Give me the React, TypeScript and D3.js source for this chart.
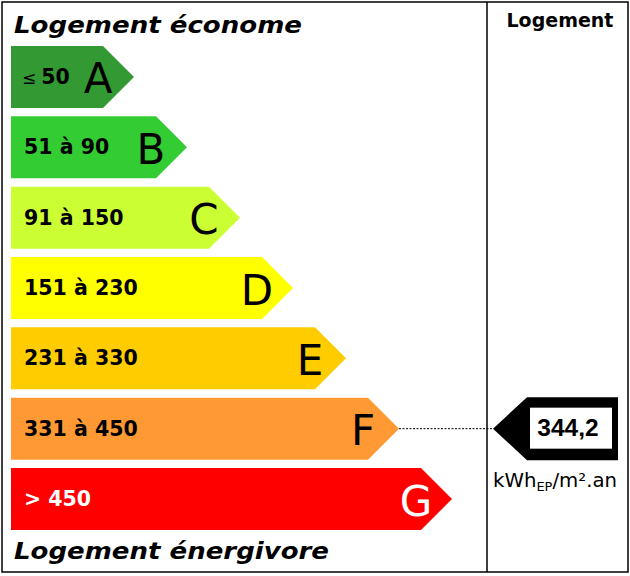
import React from "react";
import * as d3 from "d3";

const classes = ["A", "B", "C", "D", "E", "F", "G"];
const rangeLabels = ["50", "51 à 90", "91 à 150", "151 à 230", "231 à 330", "331 à 450", "> 450"];
const upperBounds = [50, 90, 150, 230, 330, 450, Infinity];
const colors = ["#339933", "#33cc33", "#ccff33", "#ffff00", "#ffcc00", "#ff9933", "#ff0000"];
const textColors = ["#000", "#000", "#000", "#000", "#000", "#000", "#fff"];
const value = 344.2;
const valueLabel = "344,2";
const titleTop = "Logement économe";
const titleBottom = "Logement énergivore";
const columnTitle = "Logement";

const W = 630;
const H = 576;
const FONT = "Verdana, 'DejaVu Sans', sans-serif";

export default function App() {
  const y = d3.scaleBand<string>().domain(classes).range([46, 530]).paddingInner(0.1185).paddingOuter(0);
  const tipX = d3.scaleLinear().domain([0, 6]).range([134, 452]);
  const bh = y.bandwidth();
  const point = bh / 2;
  const left = 11;

  const cls = classes[upperBounds.findIndex((u) => value <= u)];
  const my = (y(cls) as number) + bh / 2;
  const markerTip = 493;
  const markerRight = 618;
  const markerH = 63;
  const markerPoint = 34;
  const fIndex = classes.indexOf(cls);

  return (
    <svg width={W} height={H} style={{ position: "absolute", left: 0, top: 0 }} xmlns="http://www.w3.org/2000/svg">
      <rect x={0} y={0} width={W} height={H} fill="#fff" />
      <rect x={2} y={2} width={626} height={570} fill="none" stroke="#000" strokeWidth={1.5} />
      <line x1={487} x2={487} y1={2} y2={572} stroke="#000" strokeWidth={1.5} />

      <text x={14} y={33} fontFamily={FONT} fontWeight="bold" fontStyle="italic" fontSize={23} textLength={288} lengthAdjust="spacingAndGlyphs">{titleTop}</text>
      <text x={14} y={559} fontFamily={FONT} fontWeight="bold" fontStyle="italic" fontSize={23} textLength={315} lengthAdjust="spacingAndGlyphs">{titleBottom}</text>
      <text x={560} y={27} textAnchor="middle" fontFamily={FONT} fontWeight="bold" fontSize={19}>{columnTitle}</text>

      {classes.map((c, i) => {
        const top = y(c) as number;
        const tx = tipX(i);
        const path = d3.path();
        path.moveTo(left, top);
        path.lineTo(tx - point, top);
        path.lineTo(tx, top + bh / 2);
        path.lineTo(tx - point, top + bh);
        path.lineTo(left, top + bh);
        path.closePath();
        const cy = top + bh / 2;
        return (
          <g key={c}>
            <path d={path.toString()} fill={colors[i]} />
            {i === 0 ? (
              <text x={22} y={cy + 7} fontFamily={FONT} fill={textColors[i]}>
                <tspan fontSize={17}>≤</tspan>
                <tspan fontSize={20.5} fontWeight="bold" dx={5}>{rangeLabels[i]}</tspan>
              </text>
            ) : (
              <text x={24} y={cy + 7} fontFamily={FONT} fontWeight="bold" fontSize={20.5} fill={textColors[i]}>{rangeLabels[i]}</text>
            )}
            <text x={tx - 36} y={cy + 16.5} textAnchor="middle" fontFamily={FONT} fontSize={42} fill={textColors[i]}>{c}</text>
          </g>
        );
      })}

      <line x1={tipX(fIndex)} x2={markerTip} y1={my} y2={my} stroke="#000" strokeWidth={1} strokeDasharray="2,1.5" />
      <path
        d={`M${markerTip},${my} L${markerTip + markerPoint},${my - markerH / 2} L${markerRight},${my - markerH / 2} L${markerRight},${my + markerH / 2} L${markerTip + markerPoint},${my + markerH / 2} Z`}
        fill="#000"
      />
      <rect x={530} y={my - 21} width={82} height={41} fill="#fff" />
      <text x={568} y={my + 7.5} textAnchor="middle" fontFamily="'Liberation Sans', Arial, sans-serif" fontWeight="bold" fontSize={24.5}>{valueLabel}</text>

      <text x={493} y={487} fontFamily={FONT} fontSize={19} textLength={124} lengthAdjust="spacingAndGlyphs">
        kWh<tspan fontSize={12.5} dy={4}>EP</tspan><tspan dy={-4}>/m².an</tspan>
      </text>
    </svg>
  );
}
